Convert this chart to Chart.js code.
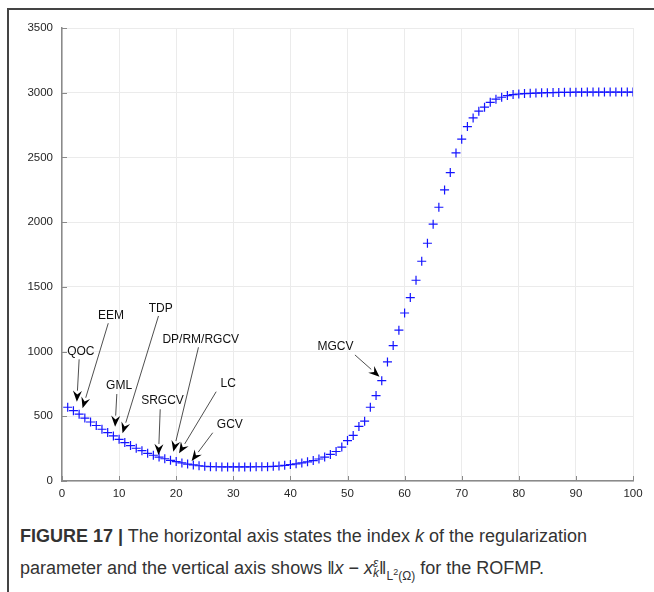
<!DOCTYPE html>
<html><head><meta charset="utf-8">
<script src="https://cdn.jsdelivr.net/npm/chart.js@4/dist/chart.umd.min.js"></script>
<style>
body{margin:0;width:654px;height:592px;background:#fff;position:relative;overflow:hidden;font-family:"Liberation Sans",Arial,sans-serif;}
#frame{position:absolute;left:7px;top:8px;width:660px;height:600px;border-left:2px solid #444;border-top:2px solid #444;}
#wrap{position:absolute;left:0;top:0;width:654px;height:506px;}
#cap{position:absolute;left:20px;top:521px;width:630px;font-size:18px;line-height:30px;color:#333;white-space:nowrap;}
#cap b{color:#333;}
.ss{display:inline-block;vertical-align:middle;line-height:10px;font-size:12px;text-align:left;position:relative;top:-1px;}
.sub2{font-size:12px;position:relative;top:6px;}
</style>
</head><body>
<div id="frame"></div>
<div id="wrap"><canvas id="c" width="654" height="506"></canvas></div>
<div id="cap"><b>FIGURE 17 |</b> The horizontal axis states the index <i>k</i> of the regularization<br>parameter and the vertical axis shows ‖<i>x</i> − <i>x</i><span class="ss"><i>ε</i><br><i>k</i></span>‖<span class="sub2">L<sup style="font-size:9px">2</sup>(Ω)</span> for the ROFMP.</div>
<script>
// regularization index k = 1..100
const errValues = [
570,543,516,486,456,429,400,374,348,322,
297,274,253,234,214,199,185,172,160,150,
140,131,124,118,114,111,110,109,109,109,
109,109,109,110,110,111,113,116,121,127,
133,140,148,158,170,185,205,228,262,312,
352,422,462,570,660,775,920,1046,1165,1298,
1417,1551,1698,1837,1984,2115,2249,2383,2535,2641,
2738,2805,2857,2888,2926,2950,2965,2978,2986,2990,
2993,2995,2997,2999,3000,3001,3002,3003,3003,3004,
3004,3005,3005,3005,3005,3005,3005,3005,3005,3005
];
const xTicks = [0,10,20,30,40,50,60,70,80,90,100];
const yTicks = [0,500,1000,1500,2000,2500,3000,3500];

// annotation labels and their anchor points (data coordinates)
const annLabels = ['QOC','EEM','TDP','GML','SRGCV','DP/RM/RGCV','LC','GCV','MGCV'];
const annText = [[3.3,999],[8.6,1275],[17.3,1329],[10,737],[17.6,618],[24.3,1095],[29.1,750],[29.4,433],[47.9,1035]];
const annTail = [[3.0,940],[8.1,1219],[16.9,1275],[9.6,672],[17.2,554],[23.9,1033],[27,690],[26.4,373],[51.3,974]];
const annTip  = [[2.6,613],[3.6,562],[10.6,369],[9.3,420],[16.9,201],[19.5,226],[20.5,214],[22.7,155],[55.6,806]];

const points = errValues.map((v,i)=>({x:i+1,y:v}));

const decor = {
  id:'decor',
  beforeDatasetsDraw(chart){
    const {ctx, chartArea:a, scales:{x,y}} = chart;
    ctx.save();
    ctx.strokeStyle='#8a8a8a';ctx.lineWidth=1;
    xTicks.forEach(t=>{const px=Math.round(x.getPixelForValue(t))+0.5;ctx.beginPath();ctx.moveTo(px,a.bottom);ctx.lineTo(px,a.bottom-5);ctx.stroke();});
    yTicks.forEach(t=>{const py=Math.round(y.getPixelForValue(t))+0.5;ctx.beginPath();ctx.moveTo(a.left,py);ctx.lineTo(a.left+5,py);ctx.stroke();});
    ctx.restore();
  },
  afterDatasetsDraw(chart){
    const {ctx, scales:{x,y}} = chart;
    ctx.save();
    ctx.font='12px "Liberation Sans", Arial, sans-serif';
    ctx.textAlign='center';ctx.textBaseline='middle';
    annLabels.forEach((lab,i)=>{
      const tx=x.getPixelForValue(annText[i][0]), ty=y.getPixelForValue(annText[i][1]);
      const sx=x.getPixelForValue(annTail[i][0]), sy=y.getPixelForValue(annTail[i][1]);
      const ex=x.getPixelForValue(annTip[i][0]), ey=y.getPixelForValue(annTip[i][1]);
      ctx.fillStyle='#111';
      ctx.fillText(lab,tx,ty);
      const ang=Math.atan2(ey-sy,ex-sx), L=11, W=4.5;
      const bx=ex-L*Math.cos(ang), by=ey-L*Math.sin(ang);
      ctx.strokeStyle='#222';ctx.lineWidth=0.8;
      ctx.beginPath();ctx.moveTo(sx,sy);ctx.lineTo(bx,by);ctx.stroke();
      const nx=-Math.sin(ang), ny=Math.cos(ang);
      const mx=ex-(L*0.65)*Math.cos(ang), my=ey-(L*0.65)*Math.sin(ang);
      ctx.fillStyle='#000';
      ctx.beginPath();
      ctx.moveTo(ex,ey);
      ctx.lineTo(bx+nx*W,by+ny*W);
      ctx.lineTo(mx,my);
      ctx.lineTo(bx-nx*W,by-ny*W);
      ctx.closePath();ctx.fill();
    });
    ctx.restore();
  }
};

new Chart(document.getElementById('c'),{
  type:'scatter',
  data:{datasets:[{data:points,pointStyle:'cross',pointRadius:4.5,pointHoverRadius:4.5,borderWidth:1.2,borderColor:'rgb(20,20,255)',backgroundColor:'rgb(20,20,255)',showLine:false}]},
  options:{
    responsive:false,animation:false,
    layout:{padding:{left:0,right:21,top:28,bottom:0}},
    plugins:{legend:{display:false},tooltip:{enabled:false}},
    scales:{
      x:{type:'linear',min:0,max:100,
        afterBuildTicks(s){s.ticks=xTicks.map(v=>({value:v}));},
        afterFit(s){s.height=25;},
        ticks:{color:'#262626',font:{size:11.5,family:'"Liberation Sans", Arial, sans-serif'},padding:6,maxRotation:0,callback:v=>String(v)},
        grid:{color:'#ebebeb',lineWidth:1,tickLength:0},
        border:{color:'#8a8a8a',width:1.5}},
      y:{type:'linear',min:0,max:3500,
        afterBuildTicks(s){s.ticks=yTicks.map(v=>({value:v}));},
        afterFit(s){s.width=62;},
        ticks:{color:'#262626',font:{size:11.5,family:'"Liberation Sans", Arial, sans-serif'},padding:9,callback:v=>String(v)},
        grid:{color:'#ebebeb',lineWidth:1,tickLength:0},
        border:{color:'#8a8a8a',width:1.5}}
    }
  },
  plugins:[decor]
});
</script>
</body></html>
